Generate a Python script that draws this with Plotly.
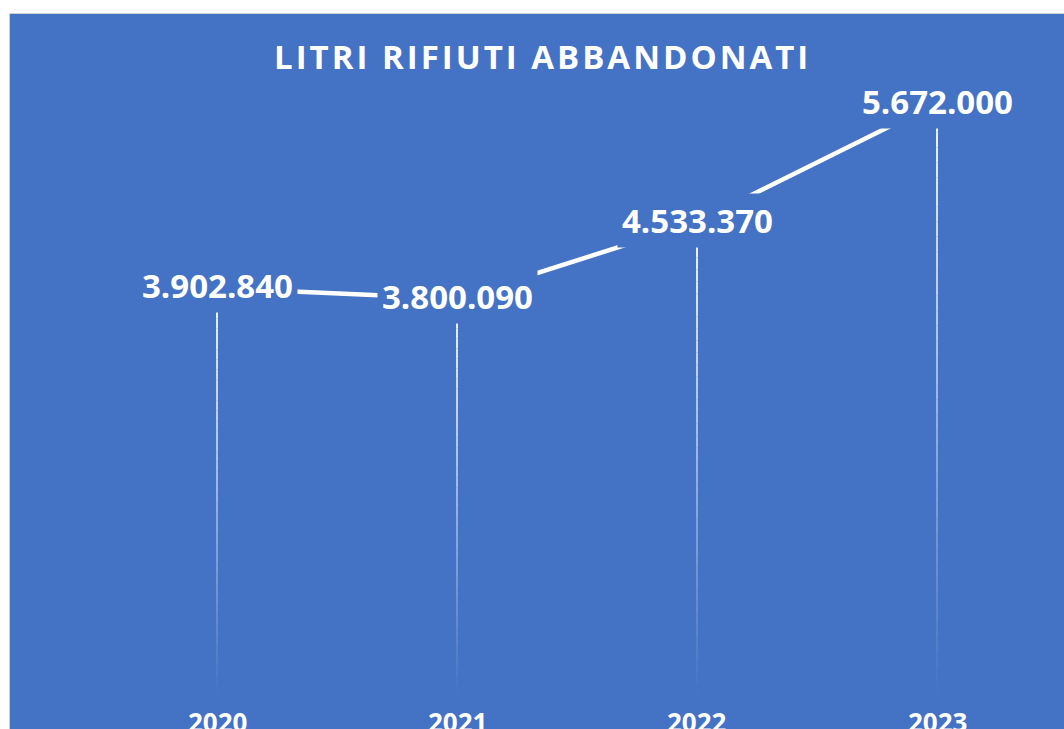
import plotly.graph_objects as go

# ---- data ----
years = ["2020", "2021", "2022", "2023"]
litri = [3902840, 3800090, 4533370, 5672000]
title_text = "LITRI RIFIUTI ABBANDONATI"

BLUE = "#4472C4"
W, H = 1064, 729
FONT = "Open Sans"

def fmt(v):
    return f"{v:,}".replace(",", ".")

xs = list(range(len(years)))

fig = go.Figure()

# main line
fig.add_trace(go.Scatter(
    x=xs, y=litri, mode="lines",
    line=dict(color="white", width=4.5),
    hoverinfo="skip", showlegend=False,
))

shapes = []
# chart-area background
shapes.append(dict(type="rect", xref="paper", yref="paper",
                   x0=9.5 / W, x1=1.02, y0=-0.02, y1=1 - 13.5 / H,
                   fillcolor=BLUE, line=dict(color="#D0D0D0", width=1),
                   layer="below"))

# drop lines with fading gradient
NSEG = 40
for xi, v in zip(xs, litri):
    for k in range(NSEG):
        t0 = k / NSEG
        t1 = (k + 1) / NSEG
        alpha = 0.95 * (1 - (t0 + t1) / 2)
        shapes.append(dict(type="line", xref="x", yref="y",
                           x0=xi, x1=xi,
                           y0=v * (1 - t0), y1=v * (1 - t1),
                           line=dict(color=f"rgba(255,255,255,{alpha:.3f})", width=2),
                           layer="above"))

annotations = []
# data labels
for xi, v in zip(xs, litri):
    annotations.append(dict(x=xi, y=v, xref="x", yref="y",
                            text=f"<b>{fmt(v)}</b>", showarrow=False,
                            font=dict(family=FONT, size=33, color="white"),
                            bgcolor=BLUE, borderpad=4, yshift=2,
                            xanchor="center", yanchor="middle"))
# category labels
for xi, yr in zip(xs, years):
    annotations.append(dict(x=xi, y=(H - 722) / H, xref="x", yref="paper",
                            text=f"<b>{yr}</b>", showarrow=False,
                            font=dict(family=FONT, size=26, color="white"),
                            xanchor="center", yanchor="middle"))
# title
annotations.append(dict(x=542 / W, y=1 - 57 / H, xref="paper", yref="paper",
                        text=f"<b><span style='letter-spacing:3px'>{title_text}</span></b>",
                        showarrow=False,
                        font=dict(family=FONT, size=33, color="white"),
                        xanchor="center", yanchor="middle"))

fig.update_layout(
    width=W, height=H,
    margin=dict(l=0, r=0, t=0, b=0),
    paper_bgcolor="white", plot_bgcolor="rgba(0,0,0,0)",
    shapes=shapes, annotations=annotations,
    xaxis=dict(range=[-217 / 240, (W - 217) / 240],
               showgrid=False, zeroline=False, showticklabels=False,
               ticks="", fixedrange=True),
    yaxis=dict(range=[-314600, 6657000],
               showgrid=False, zeroline=False, showticklabels=False,
               ticks="", fixedrange=True),
    showlegend=False,
)

fig.write_html("out.html", config={"displayModeBar": False},
               post_script="document.body.style.margin='0';document.body.style.overflow='hidden';")
